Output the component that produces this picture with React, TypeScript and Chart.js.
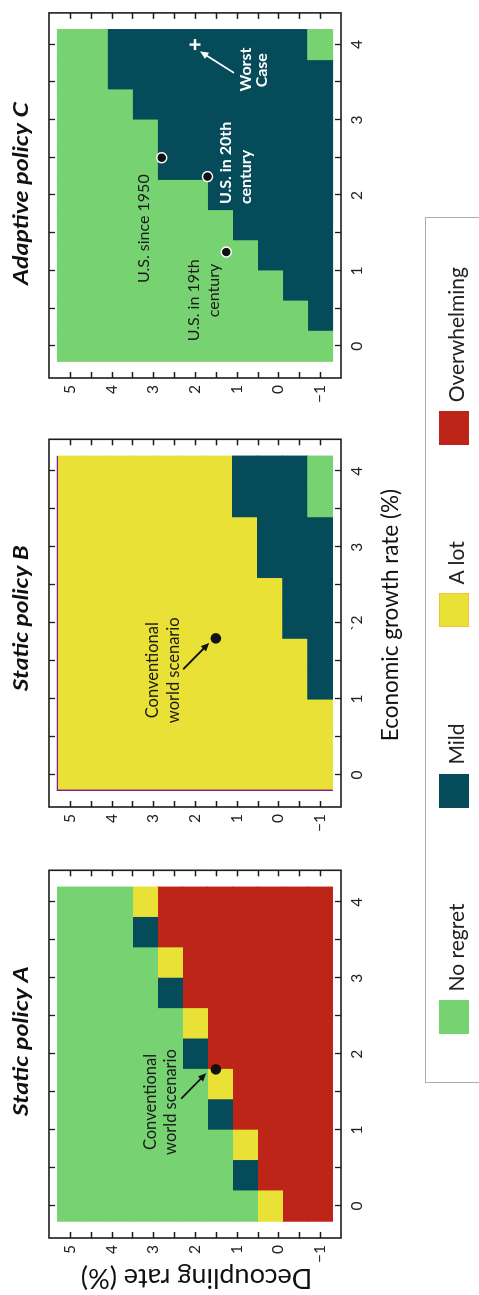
import React, { useEffect, useRef } from 'react';
import { Chart, registerables } from 'chart.js';

Chart.register(...registerables);

const FONT = 'Lato, "Open Sans", "DejaVu Sans", sans-serif';

// ---------- data ----------
const categoryNames = ['No regret', 'Mild', 'A lot', 'Overwhelming'];
const categoryColors = ['#77D371', '#064B5A', '#EAE136', '#BE2519'];
const legendBorderColors = ['#77D371', '#064B5A', '#F4C13C', '#BE2519'];

// economic growth rate (%) – grid columns
const growthRates = [0, 0.4, 0.8, 1.2, 1.6, 2.0, 2.4, 2.8, 3.2, 3.6, 4.0];
// decoupling rate (%) – grid rows, top to bottom
const decouplingRates = [5.0, 4.4, 3.8, 3.2, 2.6, 2.0, 1.4, 0.8, 0.2, -0.4, -1.0];

// outcome codes: 0 No regret, 1 Mild, 2 A lot, 3 Overwhelming
const staticPolicyA = [
  [0, 0, 0, 0, 0, 0, 0, 0, 0, 0, 0],
  [0, 0, 0, 0, 0, 0, 0, 0, 0, 0, 0],
  [0, 0, 0, 0, 0, 0, 0, 0, 0, 0, 0],
  [0, 0, 0, 0, 0, 0, 0, 0, 0, 1, 2],
  [0, 0, 0, 0, 0, 0, 0, 1, 2, 3, 3],
  [0, 0, 0, 0, 0, 1, 2, 3, 3, 3, 3],
  [0, 0, 0, 1, 2, 3, 3, 3, 3, 3, 3],
  [0, 1, 2, 3, 3, 3, 3, 3, 3, 3, 3],
  [2, 3, 3, 3, 3, 3, 3, 3, 3, 3, 3],
  [3, 3, 3, 3, 3, 3, 3, 3, 3, 3, 3],
  [3, 3, 3, 3, 3, 3, 3, 3, 3, 3, 3],
];
const staticPolicyB = [
  [2, 2, 2, 2, 2, 2, 2, 2, 2, 2, 2],
  [2, 2, 2, 2, 2, 2, 2, 2, 2, 2, 2],
  [2, 2, 2, 2, 2, 2, 2, 2, 2, 2, 2],
  [2, 2, 2, 2, 2, 2, 2, 2, 2, 2, 2],
  [2, 2, 2, 2, 2, 2, 2, 2, 2, 2, 2],
  [2, 2, 2, 2, 2, 2, 2, 2, 2, 2, 2],
  [2, 2, 2, 2, 2, 2, 2, 2, 2, 2, 2],
  [2, 2, 2, 2, 2, 2, 2, 2, 2, 1, 1],
  [2, 2, 2, 2, 2, 2, 2, 1, 1, 1, 1],
  [2, 2, 2, 2, 2, 1, 1, 1, 1, 1, 1],
  [2, 2, 2, 1, 1, 1, 1, 1, 1, 0, 0],
];
const adaptivePolicyC = [
  [0, 0, 0, 0, 0, 0, 0, 0, 0, 0, 0],
  [0, 0, 0, 0, 0, 0, 0, 0, 0, 0, 0],
  [0, 0, 0, 0, 0, 0, 0, 0, 0, 1, 1],
  [0, 0, 0, 0, 0, 0, 0, 0, 1, 1, 1],
  [0, 0, 0, 0, 0, 0, 1, 1, 1, 1, 1],
  [0, 0, 0, 0, 0, 0, 1, 1, 1, 1, 1],
  [0, 0, 0, 0, 0, 1, 1, 1, 1, 1, 1],
  [0, 0, 0, 0, 1, 1, 1, 1, 1, 1, 1],
  [0, 0, 0, 1, 1, 1, 1, 1, 1, 1, 1],
  [0, 0, 1, 1, 1, 1, 1, 1, 1, 1, 1],
  [0, 1, 1, 1, 1, 1, 1, 1, 1, 1, 0],
];

const xTickValues = [0, 0.5, 1, 1.5, 2, 2.5, 3, 3.5, 4];
const xTickLabelsA = ['0', '', '1', '', '2', '', '3', '', '4'];
const xTickLabelsB = ['0', '', '1', '', '`2', '', '3', '', '4'];
const xTickLabelsC = ['0', '', '1', '', '2', '', '3', '', '4'];
const yTickValues = [5, 4.5, 4, 3.5, 3, 2.5, 2, 1.5, 1, 0.5, 0, -0.5, -1];
const yTickLabels = ['5', '', '4', '', '3', '', '2', '', '1', '', '0', '', '\u22121'];

const xRange = [-0.42, 4.42];
const yRange = [-1.5, 5.5];

const conventionalScenario = [{ x: 1.8, y: 1.5 }];
const usHistoryPoints = [
  { x: 1.25, y: 1.25 },
  { x: 2.25, y: 1.7 },
  { x: 2.5, y: 2.8 },
];
const worstCasePoint = [{ x: 4.0, y: 2.0 }];

// arrows: [fromX, fromY, toX, toY]
const arrowA = [1.42, 2.32, 1.75, 1.73];
const arrowB = [1.4, 2.27, 1.74, 1.66];
const arrowC = [3.63, 1.08, 3.91, 1.88];

const labelsA = [
  { text: 'Conventional', x: 1.37, y: 3.06 },
  { text: 'world scenario', x: 1.37, y: 2.58 },
];
const labelsB = [
  { text: 'Conventional', x: 1.38, y: 3.01 },
  { text: 'world scenario', x: 1.38, y: 2.51 },
];
const labelsCDark = [
  { text: 'U.S. since 1950', x: 1.56, y: 3.23 },
  { text: 'U.S. in 19th', x: 0.61, y: 2.03 },
  { text: 'century', x: 0.74, y: 1.55 },
];
const labelsCWhite = [
  { text: 'U.S. in 20th', x: 1.885, y: 1.26, align: 'left' },
  { text: 'century', x: 1.885, y: 0.78, align: 'left' },
  { text: 'Worst', x: 3.67, y: 0.78 },
  { text: 'Case', x: 3.66, y: 0.4 },
];

// ---------- helpers ----------
const halfCol = (growthRates[1] - growthRates[0]) / 2;
const halfRow = (decouplingRates[0] - decouplingRates[1]) / 2;

function heatDatasets(grid: number[][]) {
  return categoryNames.map((name, c) => {
    const data: any[] = [];
    grid.forEach((row, r) => {
      row.forEach((code, i) => {
        if (code === c) {
          data.push({ x: growthRates[i], y: [decouplingRates[r] - halfRow, decouplingRates[r] + halfRow] });
        }
      });
    });
    return {
      type: 'bar',
      label: name,
      data,
      backgroundColor: categoryColors[c],
      borderWidth: 0,
      grouped: false,
      barPercentage: 1,
      categoryPercentage: 1,
      inflateAmount: 0.45,
      order: 2,
    };
  });
}

function drawArrow(ctx: CanvasRenderingContext2D, x1: number, y1: number, x2: number, y2: number, color: string, width: number, head: number) {
  const ang = Math.atan2(y2 - y1, x2 - x1);
  ctx.save();
  ctx.strokeStyle = color;
  ctx.fillStyle = color;
  ctx.lineWidth = width;
  ctx.lineCap = 'round';
  ctx.beginPath();
  ctx.moveTo(x1, y1);
  ctx.lineTo(x2 - head * 0.7 * Math.cos(ang), y2 - head * 0.7 * Math.sin(ang));
  ctx.stroke();
  ctx.beginPath();
  ctx.moveTo(x2, y2);
  ctx.lineTo(x2 - head * Math.cos(ang - 0.42), y2 - head * Math.sin(ang - 0.42));
  ctx.lineTo(x2 - head * Math.cos(ang + 0.42), y2 - head * Math.sin(ang + 0.42));
  ctx.closePath();
  ctx.fill();
  ctx.restore();
}

// draw text stretched horizontally so that it spans the given width
function drawStretched(ctx: CanvasRenderingContext2D, text: string, cx: number, y: number, width: number) {
  const w = ctx.measureText(text).width || 1;
  const sx = width / w;
  ctx.save();
  ctx.translate(cx, y);
  ctx.scale(sx, 1);
  ctx.textAlign = 'center';
  ctx.fillText(text, 0, 0);
  ctx.restore();
}

const panelDecor = {
  id: 'panelDecor',
  afterDatasetsDraw(chart: any, _args: any, opts: any) {
    const { ctx, chartArea: ca } = chart;
    const xs = chart.scales.x;
    const ys = chart.scales.y;
    ctx.save();

    // coloured edge lines around the grid (panel B)
    if (opts.edgeColor) {
      const gx0 = xs.getPixelForValue(growthRates[0] - halfCol);
      const gx1 = xs.getPixelForValue(growthRates[growthRates.length - 1] + halfCol);
      const gy0 = ys.getPixelForValue(decouplingRates[0] + halfRow);
      const gy1 = ys.getPixelForValue(decouplingRates[decouplingRates.length - 1] - halfRow);
      ctx.strokeStyle = opts.edgeColor;
      ctx.lineWidth = 1.4;
      ctx.beginPath();
      ctx.moveTo(gx1, gy0);
      ctx.lineTo(gx0, gy0);
      ctx.lineTo(gx0, gy1);
      ctx.stroke();
    }

    // arrows
    (opts.arrows || []).forEach((a: any) => {
      drawArrow(ctx, xs.getPixelForValue(a.pts[0]), ys.getPixelForValue(a.pts[1]), xs.getPixelForValue(a.pts[2]), ys.getPixelForValue(a.pts[3]), a.color, a.width, a.head);
    });

    // text labels
    (opts.labels || []).forEach((g: any) => {
      ctx.fillStyle = g.color;
      ctx.font = `${g.weight} ${g.size}px ${FONT}`;
      ctx.textBaseline = 'middle';
      g.items.forEach((t: any) => {
        ctx.textAlign = t.align || 'center';
        ctx.fillText(t.text, xs.getPixelForValue(t.x), ys.getPixelForValue(t.y));
      });
    });

    // frame and inward ticks on all four sides
    ctx.strokeStyle = '#1c1c1c';
    ctx.lineWidth = 1.6;
    ctx.strokeRect(ca.left, ca.top, ca.right - ca.left, ca.bottom - ca.top);
    ctx.lineWidth = 1.3;
    const tl = 6;
    ctx.beginPath();
    xs.ticks.forEach((t: any) => {
      const p = Math.round(xs.getPixelForValue(t.value)) + 0.5;
      ctx.moveTo(p, ca.bottom);
      ctx.lineTo(p, ca.bottom - tl);
      ctx.moveTo(p, ca.top);
      ctx.lineTo(p, ca.top + tl);
    });
    ys.ticks.forEach((t: any) => {
      const p = Math.round(ys.getPixelForValue(t.value)) + 0.5;
      ctx.moveTo(ca.left, p);
      ctx.lineTo(ca.left + tl, p);
      ctx.moveTo(ca.right, p);
      ctx.lineTo(ca.right - tl, p);
    });
    ctx.stroke();

    // panel title (bold italic, stretched to the reference width)
    ctx.fillStyle = '#111';
    ctx.font = `italic bold 20px ${FONT}`;
    ctx.textBaseline = 'alphabetic';
    drawStretched(ctx, opts.title, (ca.left + ca.right) / 2 + opts.titleShift, 28, opts.titleWidth);

    // axis titles
    if (opts.xTitle) {
      ctx.fillStyle = '#111';
      ctx.font = `22.5px ${FONT}`;
      ctx.textAlign = 'center';
      ctx.textBaseline = 'middle';
      ctx.fillText(opts.xTitle, (ca.left + ca.right) / 2 + opts.xTitleShift, 391);
    }
    if (opts.yTitle) {
      ctx.fillStyle = '#111';
      ctx.font = `27px ${FONT}`;
      ctx.textAlign = 'center';
      ctx.textBaseline = 'middle';
      ctx.translate(17.5, (ca.top + ca.bottom) / 2 + 1.5);
      ctx.rotate(-Math.PI / 2);
      ctx.fillText(opts.yTitle, 0, 0);
    }
    ctx.restore();
  },
};

type PanelDef = {
  grid: number[][];
  xLabels: string[];
  points: any[];
  decor: any;
};

const panels: PanelDef[] = [
  {
    grid: staticPolicyA,
    xLabels: xTickLabelsA,
    points: [
      { type: 'scatter', data: conventionalScenario, pointRadius: 5.3, backgroundColor: '#111', borderColor: '#111', borderWidth: 0, order: 1 },
    ],
    decor: {
      title: 'Static policy A',
      titleShift: 13,
      titleWidth: 150,
      yTitle: 'Decoupling rate (%)',
      arrows: [{ pts: arrowA, color: '#111', width: 1.8, head: 9 }],
      labels: [{ color: '#1a1a1a', weight: 'normal', size: 16.5, items: labelsA }],
    },
  },
  {
    grid: staticPolicyB,
    xLabels: xTickLabelsB,
    points: [
      { type: 'scatter', data: conventionalScenario, pointRadius: 5.3, backgroundColor: '#111', borderColor: '#111', borderWidth: 0, order: 1 },
    ],
    decor: {
      title: 'Static policy B',
      titleShift: 5,
      titleWidth: 146,
      xTitle: 'Economic growth rate (%)',
      xTitleShift: 8,
      edgeColor: '#86188E',
      arrows: [{ pts: arrowB, color: '#111', width: 1.8, head: 9 }],
      labels: [{ color: '#1a1a1a', weight: 'normal', size: 16.5, items: labelsB }],
    },
  },
  {
    grid: adaptivePolicyC,
    xLabels: xTickLabelsC,
    points: [
      { type: 'scatter', data: usHistoryPoints, pointRadius: 5, backgroundColor: '#111', borderColor: '#ffffff', borderWidth: 1.5, order: 1 },
      { type: 'scatter', data: worstCasePoint, pointStyle: 'cross', pointRadius: 5.5, borderColor: '#ffffff', borderWidth: 2.4, order: 1 },
    ],
    decor: {
      title: 'Adaptive policy C',
      titleShift: 2,
      titleWidth: 183,
      arrows: [{ pts: arrowC, color: '#ffffff', width: 1.8, head: 9 }],
      labels: [
        { color: '#1a1a1a', weight: 'normal', size: 16, items: labelsCDark },
        { color: '#ffffff', weight: 'bold', size: 16, items: labelsCWhite },
      ],
    },
  },
];

const PANEL_W = 430;
const PANEL_H = 479;
const panelLefts = [0, 431, 860];

function Panel({ def }: { def: PanelDef }) {
  const ref = useRef<HTMLCanvasElement>(null);
  useEffect(() => {
    const cfg: any = {
      type: 'bar',
      data: { datasets: [...def.points, ...heatDatasets(def.grid)] },
      options: {
        animation: false,
        responsive: false,
        devicePixelRatio: 1,
        events: [],
        layout: { padding: { top: 49, right: 4, left: 0, bottom: 0 } },
        plugins: {
          legend: { display: false },
          title: { display: false },
          tooltip: { enabled: false },
          panelDecor: def.decor,
        },
        scales: {
          x: {
            type: 'linear',
            min: xRange[0],
            max: xRange[1],
            offset: false,
            grid: { display: false, drawTicks: false, offset: false },
            border: { display: false },
            afterBuildTicks: (s: any) => {
              s.ticks = xTickValues.map((v) => ({ value: v }));
            },
            afterFit: (s: any) => {
              s.height = 138;
            },
            ticks: {
              padding: 7,
              color: '#222',
              font: { family: FONT, size: 15.5 },
              maxRotation: 0,
              minRotation: 0,
              autoSkip: false,
              callback: (_v: any, i: number) => def.xLabels[i],
            },
          },
          y: {
            type: 'linear',
            min: yRange[0],
            max: yRange[1],
            stacked: false,
            grid: { display: false, drawTicks: false },
            border: { display: false },
            afterBuildTicks: (s: any) => {
              s.ticks = yTickValues.map((v) => ({ value: v }));
            },
            afterFit: (s: any) => {
              s.width = 57;
            },
            ticks: {
              padding: 7,
              color: '#222',
              font: { family: FONT, size: 15.5 },
              autoSkip: false,
              callback: (_v: any, i: number) => yTickLabels[i],
            },
          },
        },
      },
      plugins: [panelDecor],
    };
    const chart = new Chart(ref.current as HTMLCanvasElement, cfg);
    return () => chart.destroy();
  }, [def]);
  return <canvas ref={ref} width={PANEL_W} height={PANEL_H} style={{ display: 'block' }} />;
}

function Legend() {
  return (
    <div
      style={{
        position: 'absolute',
        left: 212,
        top: 425,
        width: 866,
        height: 90,
        boxSizing: 'border-box',
        border: '1.6px solid #ababab',
        paddingLeft: 47.5,
        paddingTop: 12.5,
        display: 'flex',
        alignItems: 'flex-start',
        gap: 96,
        fontFamily: FONT,
        fontSize: 21,
        color: '#222',
        background: '#fff',
      }}
    >
      {categoryNames.map((name, i) => (
        <div key={name} style={{ display: 'flex', alignItems: 'center', height: 30 }}>
          <span
            style={{
              display: 'inline-block',
              width: 34,
              height: 30,
              boxSizing: 'border-box',
              background: categoryColors[i],
              border: `1.5px solid ${legendBorderColors[i]}`,
              marginRight: 9,
            }}
          />
          <span style={{ lineHeight: '24px', position: 'relative', top: 2 }}>{name}</span>
        </div>
      ))}
    </div>
  );
}

export default function App() {
  return (
    <div
      style={{
        position: 'fixed',
        left: 0,
        top: 0,
        width: 1295,
        height: 479,
        overflow: 'hidden',
        background: '#fff',
        transformOrigin: '0 0',
        transform: 'translate(0px, 1295px) rotate(-90deg)',
      }}
    >
      {panels.map((p, i) => (
        <div key={i} style={{ position: 'absolute', left: panelLefts[i], top: 0, width: PANEL_W, height: PANEL_H }}>
          <Panel def={p} />
        </div>
      ))}
      <Legend />
    </div>
  );
}
